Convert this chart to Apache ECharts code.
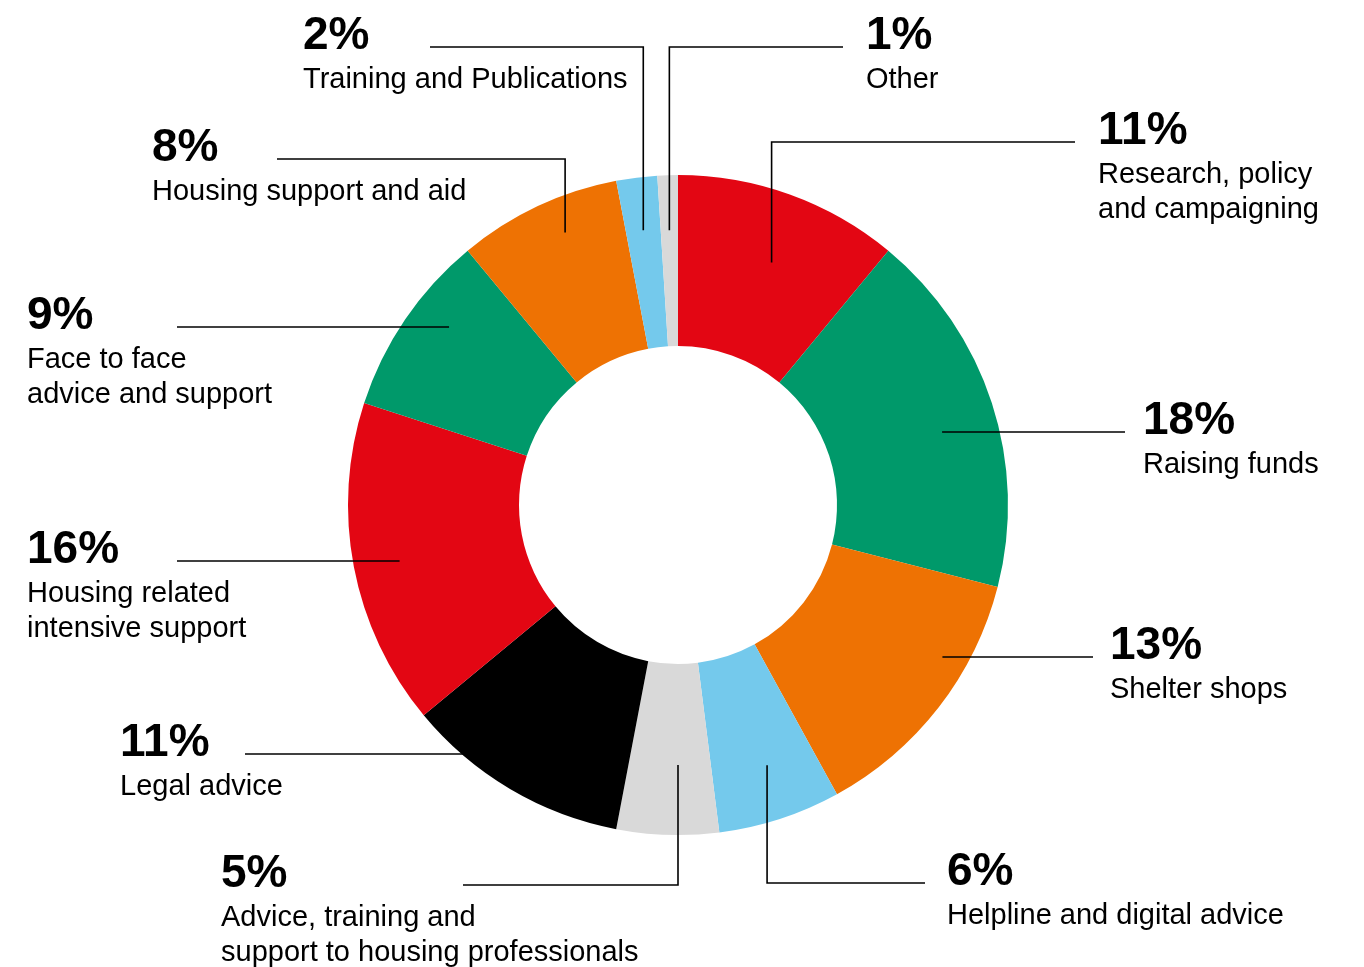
<!DOCTYPE html>
<html>
<head>
<meta charset="utf-8">
<title>Spending breakdown</title>
<script src="https://cdn.jsdelivr.net/npm/echarts@6/dist/echarts.min.js"></script>
<style>
  html, body { margin: 0; padding: 0; background: #fff; }
  #main { width: 1364px; height: 967px; }
</style>
</head>
<body>
<div id="main"></div>
<script>
// slices, clockwise from 12 o'clock
var names = [
  'Research, policy\nand campaigning',
  'Raising funds',
  'Shelter shops',
  'Helpline and digital advice',
  'Advice, training and\nsupport to housing professionals',
  'Legal advice',
  'Housing related\nintensive support',
  'Face to face\nadvice and support',
  'Housing support and aid',
  'Training and Publications',
  'Other'
];
var values = [11, 18, 13, 6, 5, 11, 16, 9, 8, 2, 1];
var colors = ['#e30613', '#00996a', '#ee7203', '#74c9ec', '#d9d9d9', '#000000',
  '#e30613', '#00996a', '#ee7203', '#74c9ec', '#d9d9d9'];

// label placement: [text left, text top, leader start x, anchor radius, elbow?, angle nudge deg]
var labelSpots = [
  [1098, 105, 1075, 260, true, 1.3],
  [1143, 395, 1125, 274, false, 0],
  [1110, 620, 1093, 305, false, 0],
  [947, 846, 925, 275, true, -0.9],
  [221, 848, 463, 260, true, -1.8],
  [120, 717, 245, 329, false, 0],
  [27, 524, 177, 284, false, 0],
  [27, 290, 177, 290, false, 0],
  [152, 122, 277, 295, true, 2.7],
  [303, 10, 430, 277, true, 0],
  [866, 10, 843, 275, true, 0]
];

var cx = 678, cy = 505, rIn = 159, rOut = 330;

var total = 0;
for (var i = 0; i < values.length; i++) total += values[i];
// mid angle of each slice (radians, clockwise from top)
var midAngles = [];
var cum = 0;
for (var i = 0; i < values.length; i++) {
  midAngles.push((cum + values[i] / 2) / total * Math.PI * 2);
  cum += values[i];
}

function leaderPoints(i) {
  var s = labelSpots[i];
  var lineY = s[1] + 37;
  var a = midAngles[i] + s[5] * Math.PI / 180;
  var r = s[3];
  if (s[4]) {
    var ex = cx + r * Math.sin(a);
    var ey = cy - r * Math.cos(a);
    return [[s[2], lineY], [ex, lineY], [ex, ey]];
  }
  var dy = lineY - cy;
  var dx = Math.sqrt(Math.max(r * r - dy * dy, 0)) * (Math.sin(a) < 0 ? -1 : 1);
  return [[s[2], lineY], [cx + dx, lineY], [cx + dx, lineY]];
}

var ringData = names.map(function (n, i) {
  return { name: n, value: values[i], itemStyle: { color: colors[i] } };
});
// same slices again, invisible, only to carry labels + leader lines on top
var labelData = names.map(function (n, i) {
  return { name: n, value: values[i] };
});

var option = {
  backgroundColor: '#ffffff',
  animation: false,
  series: [{
    type: 'pie',
    z: 2,
    center: [cx, cy],
    radius: [rIn, rOut],
    startAngle: 90,
    clockwise: true,
    emphasis: { disabled: true },
    itemStyle: { borderWidth: 0 },
    label: { show: false },
    labelLine: { show: false },
    data: ringData
  }, {
    type: 'pie',
    z: 5,
    silent: true,
    center: [cx, cy],
    radius: [rIn, rOut],
    startAngle: 90,
    clockwise: true,
    avoidLabelOverlap: false,
    emphasis: { disabled: true },
    itemStyle: { color: 'rgba(0,0,0,0)', borderWidth: 0 },
    label: {
      show: true,
      position: 'outside',
      overflow: 'none',
      color: '#000',
      formatter: function (p) {
        var lines = p.name.split('\n').map(function (t) { return '{n|' + t + '}'; });
        return '{p|' + p.value + '%}\n' + lines.join('\n');
      },
      rich: {
        p: {
          fontFamily: 'Liberation Sans',
          fontWeight: 'bold',
          fontSize: 46,
          lineHeight: 52,
          color: '#000'
        },
        n: {
          fontFamily: 'Liberation Sans',
          fontSize: 29,
          lineHeight: 35,
          color: '#000'
        }
      }
    },
    labelLine: {
      show: true,
      lineStyle: { color: '#000', width: 1.6, opacity: 1 }
    },
    labelLayout: function (params) {
      var s = labelSpots[params.dataIndex];
      return {
        x: s[0],
        y: s[1],
        align: 'left',
        verticalAlign: 'top',
        labelLinePoints: leaderPoints(params.dataIndex)
      };
    },
    data: labelData
  }]
};

var myChart = echarts.init(document.getElementById('main'));
myChart.setOption(option);
</script>
</body>
</html>
